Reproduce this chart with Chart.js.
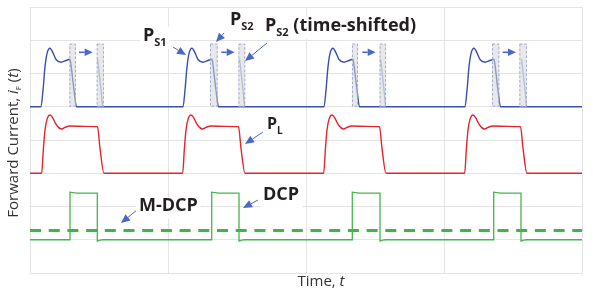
<!DOCTYPE html>
<html><head><meta charset="utf-8">
<script src="https://cdn.jsdelivr.net/npm/chart.js@4.4.1/dist/chart.umd.min.js"></script>
<style>html,body{margin:0;padding:0;background:#fff}canvas{display:block}</style>
</head><body>
<canvas id="c" width="593" height="298"></canvas>
<script>
// ---- data (x in time units, one grid cell = 1; y in grid cells) ----
const blueX = [0,
 0.0797,0.0942,0.1087,0.1232,0.1449,0.1667,0.1884,0.2246,0.2609,0.2899,0.2971,0.3188,0.3370,
 1.1087,1.1232,1.1377,1.1522,1.1739,1.1957,1.2174,1.2536,1.2899,1.3188,1.3261,1.3478,1.3659,
 2.1304,2.1449,2.1594,2.1739,2.1957,2.2174,2.2391,2.2754,2.3116,2.3406,2.3478,2.3696,2.3877,
 3.1522,3.1667,3.1812,3.1957,3.2174,3.2391,3.2609,3.2971,3.3333,3.3623,3.3696,3.3913,3.4094,
 4];
const blueY = [5.0,
 5.0,5.5,6.2,6.6,6.76,6.62,6.42,6.34,6.39,6.43,6.25,5.5,5.0,
 5.0,5.5,6.2,6.6,6.76,6.62,6.42,6.34,6.39,6.43,6.25,5.5,5.0,
 5.0,5.5,6.2,6.6,6.76,6.62,6.42,6.34,6.39,6.43,6.25,5.5,5.0,
 5.0,5.5,6.2,6.6,6.76,6.62,6.42,6.34,6.39,6.43,6.25,5.5,5.0,
 5.0];
const shiftFallX = [
 [0.4891,0.4964,0.5145,0.5254],
 [1.5181,1.5254,1.5435,1.5543],
 [2.5399,2.5471,2.5652,2.5761],
 [3.5616,3.5688,3.5870,3.5978]];
const shiftFallY = [6.43,6.2,5.5,5.0];
const redX = [0,
 0.0848,0.0964,0.1087,0.1232,0.1449,0.1630,0.1848,0.2065,0.2297,0.2536,0.2899,0.3986,0.4891,0.5072,0.5362,
 1.1065,1.1181,1.1304,1.1449,1.1667,1.1848,1.2065,1.2283,1.2514,1.2754,1.3116,1.4203,1.5109,1.5290,1.5580,
 2.1283,2.1399,2.1522,2.1667,2.1884,2.2065,2.2283,2.2500,2.2732,2.2971,2.3333,2.4420,2.5326,2.5507,2.5797,
 3.1500,3.1616,3.1739,3.1884,3.2101,3.2283,3.2500,3.2717,3.2949,3.3188,3.3551,3.4638,3.5543,3.5725,3.6014,
 4];
const redY = [3.0,
 3.0,3.7,4.3,4.62,4.75,4.68,4.5,4.38,4.33,4.38,4.42,4.41,4.40,3.75,3.0,
 3.0,3.7,4.3,4.62,4.75,4.68,4.5,4.38,4.33,4.38,4.42,4.41,4.40,3.75,3.0,
 3.0,3.7,4.3,4.62,4.75,4.68,4.5,4.38,4.33,4.38,4.42,4.41,4.40,3.75,3.0,
 3.0,3.7,4.3,4.62,4.75,4.68,4.5,4.38,4.33,4.38,4.42,4.41,4.40,3.75,3.0,
 3.0];
const greenX = [0,
 0.2899,0.2899,0.3406,0.4877,0.4877,0.5072,0.5290,
 1.3167,1.3167,1.3674,1.5145,1.5145,1.5341,1.5558,
 2.3355,2.3355,2.3862,2.5362,2.5362,2.5558,2.5775,
 3.3601,3.3601,3.4108,3.5580,3.5580,3.5775,3.5993,
 4];
const greenY = [1.0,
 1.0,2.43,2.40,2.40,0.96,0.99,1.0,
 1.0,2.43,2.40,2.40,0.96,0.99,1.0,
 1.0,2.43,2.40,2.40,0.96,0.99,1.0,
 1.0,2.43,2.40,2.40,0.96,0.99,1.0,
 1.0];
const mdcpX = [0, 4];
const mdcpY = [1.28, 1.28];

// ---- annotations (data units) ----
const boxSpans = [[0.285,0.333],[0.483,0.536],[1.304,1.360],[1.510,1.560],
                  [2.333,2.377],[2.533,2.580],[3.348,3.401],[3.546,3.601]];
const boxYRange = [5.0, 6.9];
const shiftArrows = [[0.3551,0.4543],[1.3862,1.4833],[2.4080,2.5051],[3.4254,3.5217]];
const shiftArrowY = 6.638;
const labelArrows = [
 [1.0362,6.797,1.1304,6.556],
 [1.4058,7.218,1.3478,6.947],
 [1.7174,6.917,1.5580,6.376],
 [1.6884,4.241,1.5580,3.880],
 [0.7754,1.895,0.6594,1.504],
 [1.6522,2.195,1.5435,1.955]];
const labels = [
 {main:'P', sub:'S1', rest:'', x:0.8188, y:6.977, size:18},
 {main:'P', sub:'S2', rest:'', x:1.4493, y:7.459, size:18},
 {main:'P', sub:'S2', rest:' (time-shifted)', x:1.7029, y:7.278, size:18},
 {main:'P', sub:'L', rest:'', x:1.7174, y:4.331, size:16},
 {main:'M-DCP', sub:'', rest:'', x:0.7899, y:1.865, size:18},
 {main:'DCP', sub:'', rest:'', x:1.6884, y:2.195, size:18}];

const pts = (xs, ys) => xs.map((v, i) => ({x: v, y: Array.isArray(ys) ? ys[i] : ys}));
const FONT = '"Open Sans", "DejaVu Sans", sans-serif';
const ARROW = '#4a68c6';

function arrow(ctx, x0, y0, x1, y1, lw, hl, hw) {
  const a = Math.atan2(y1 - y0, x1 - x0);
  const bx = x1 - hl * Math.cos(a), by = y1 - hl * Math.sin(a);
  ctx.setLineDash([]);
  ctx.strokeStyle = ARROW; ctx.lineWidth = lw;
  ctx.beginPath(); ctx.moveTo(x0, y0); ctx.lineTo(bx, by); ctx.stroke();
  ctx.fillStyle = ARROW;
  ctx.beginPath(); ctx.moveTo(x1, y1);
  ctx.lineTo(bx + hw * Math.sin(a), by - hw * Math.cos(a));
  ctx.lineTo(bx - hw * Math.sin(a), by + hw * Math.cos(a));
  ctx.closePath(); ctx.fill();
}

function drawRich(ctx, segs, x, y) {
  let cx = x;
  for (const s of segs) {
    ctx.font = s.font;
    ctx.fillText(s.t, cx, y + (s.dy || 0));
    cx += ctx.measureText(s.t).width;
  }
}
function richWidth(ctx, segs) {
  let w = 0;
  for (const s of segs) { ctx.font = s.font; w += ctx.measureText(s.t).width; }
  return w;
}

const annot = {
  id: 'annot',
  afterDatasetsDraw(chart) {
    const {ctx, scales: {x, y}} = chart;
    ctx.save();
    // shaded boxes
    const yt = y.getPixelForValue(boxYRange[1]), yb = y.getPixelForValue(boxYRange[0]);
    for (const b of boxSpans) {
      const x0 = x.getPixelForValue(b[0]), x1 = x.getPixelForValue(b[1]);
      ctx.fillStyle = 'rgba(214,214,214,0.55)';
      ctx.fillRect(x0, yt, x1 - x0, yb - yt);
      ctx.setLineDash([2.5, 2]);
      ctx.strokeStyle = 'rgba(150,160,205,0.85)'; ctx.lineWidth = 1;
      ctx.strokeRect(x0 + 0.5, yt + 0.5, x1 - x0 - 1, yb - yt - 1);
    }
    // shift arrows
    const sy = y.getPixelForValue(shiftArrowY);
    for (const s of shiftArrows) {
      arrow(ctx, x.getPixelForValue(s[0]), sy, x.getPixelForValue(s[1]), sy, 1.6, 8, 3.8);
    }
    // label arrows
    for (const a of labelArrows) {
      arrow(ctx, x.getPixelForValue(a[0]), y.getPixelForValue(a[1]),
                 x.getPixelForValue(a[2]), y.getPixelForValue(a[3]), 1, 9, 4);
    }
    // labels
    ctx.textBaseline = 'alphabetic'; ctx.textAlign = 'left';
    for (const l of labels) {
      const segs = [{t: l.main, font: `bold ${l.size}px ${FONT}`}];
      if (l.sub) segs.push({t: l.sub, font: `bold ${Math.round(l.size * 0.6)}px ${FONT}`, dy: 5});
      if (l.rest) segs.push({t: l.rest, font: `bold ${l.size}px ${FONT}`});
      const px = x.getPixelForValue(l.x), py = y.getPixelForValue(l.y);
      const w = richWidth(ctx, segs);
      ctx.fillStyle = '#fff';
      ctx.fillRect(px - 3, py - l.size * 0.78, w + 6, l.size * 0.78 + 8);
      ctx.fillStyle = '#231f20';
      drawRich(ctx, segs, px, py);
    }
    ctx.restore();
  },
  afterDraw(chart) {
    const {ctx, chartArea: ca} = chart;
    ctx.save();
    ctx.fillStyle = '#333';
    ctx.textBaseline = 'alphabetic'; ctx.textAlign = 'left';
    // x title
    const xs = [{t: 'Time, ', font: `15px ${FONT}`}, {t: 't', font: `italic 15px ${FONT}`}];
    const xw = richWidth(ctx, xs);
    drawRich(ctx, xs, 321 - xw / 2, 286);
    // y title
    const ys = [{t: 'Forward Current, ', font: `15px ${FONT}`},
                {t: 'i', font: `italic 15px ${FONT}`},
                {t: 'F', font: `8px ${FONT}`, dy: 3},
                {t: ' (', font: `15px ${FONT}`},
                {t: 't', font: `italic 15px ${FONT}`},
                {t: ')', font: `15px ${FONT}`}];
    const yw = richWidth(ctx, ys);
    ctx.translate(18, (ca.top + ca.bottom) / 2 + 3);
    ctx.rotate(-Math.PI / 2);
    drawRich(ctx, ys, -yw / 2, 0);
    ctx.restore();
  }
};

const shiftSets = shiftFallX.map(xs => ({
  data: pts(xs, shiftFallY), borderColor: '#8aa2de', borderWidth: 1.3,
  pointRadius: 0, tension: 0, order: 5
}));

new Chart(document.getElementById('c'), {
  type: 'line',
  data: {
    datasets: [
      {data: pts(blueX, blueY), borderColor: '#3a4fa9', borderWidth: 1.4, pointRadius: 0,
       cubicInterpolationMode: 'monotone', order: 1},
      ...shiftSets,
      {data: pts(redX, redY), borderColor: '#e5232b', borderWidth: 1.4, pointRadius: 0,
       cubicInterpolationMode: 'monotone', order: 2},
      {data: pts(greenX, greenY), borderColor: '#45b54d', borderWidth: 1.3, pointRadius: 0,
       tension: 0, order: 3},
      {data: pts(mdcpX, mdcpY), borderColor: '#3fb548', borderWidth: 3, borderDash: [11, 7.7],
       pointRadius: 0, tension: 0, order: 4}
    ]
  },
  options: {
    responsive: false, animation: false, devicePixelRatio: 1,
    layout: {padding: {left: 30, right: 11, top: 7, bottom: 25}},
    plugins: {legend: {display: false}, tooltip: {enabled: false}},
    scales: {
      x: {type: 'linear', min: 0, max: 4,
          ticks: {display: false, stepSize: 1},
          grid: {color: '#e4e4e4', lineWidth: 1, drawTicks: false},
          border: {display: true, color: '#e4e4e4'}},
      y: {type: 'linear', min: 0, max: 8,
          ticks: {display: false, stepSize: 1},
          grid: {color: '#e4e4e4', lineWidth: 1, drawTicks: false},
          border: {display: true, color: '#e4e4e4'}}
    }
  },
  plugins: [annot]
});
</script>
</body></html>
